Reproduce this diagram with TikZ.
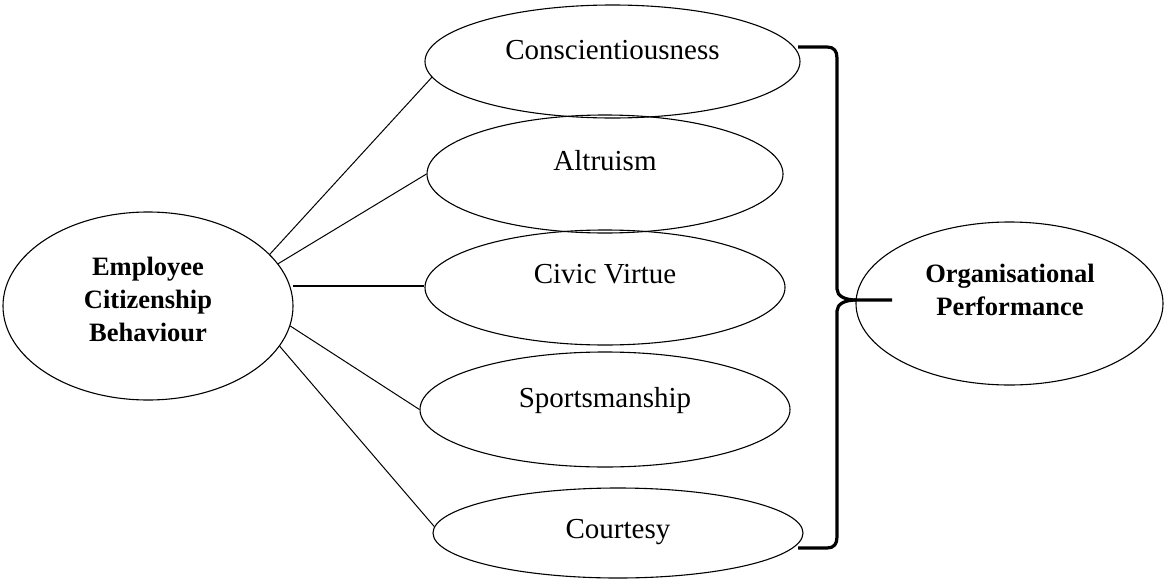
\documentclass[tikz,border=0pt]{standalone}
\usepackage{fontspec}
\setmainfont{Liberation Serif}
\usetikzlibrary{shapes.geometric}
\begin{document}
\begin{tikzpicture}[x=1pt,y=-1pt,
  oval/.style={ellipse, draw, line width=1.1pt, inner sep=0pt},
  lbl/.style={font=\fontsize{29}{34}\selectfont, anchor=base, inner sep=0pt},
  blbl/.style={font=\fontsize{26.5}{33}\selectfont\bfseries, align=center, inner sep=0pt},
  link/.style={line width=1pt},
  bracket/.style={line width=3.2pt, line cap=butt, line join=round}]
\useasboundingbox (0,0) rectangle (1165,581);
% ellipses
\node[oval, minimum width=290pt, minimum height=188pt] (ecb) at (148,306) {};
\node[oval, minimum width=375pt, minimum height=113pt] (consc) at (612.5,61.5) {};
\node[oval, minimum width=356pt, minimum height=118pt] (altru) at (605,174) {};
\node[oval, minimum width=360pt, minimum height=115pt] (civic) at (605,287.5) {};
\node[oval, minimum width=370pt, minimum height=115pt] (sports) at (605,409.5) {};
\node[oval, minimum width=370pt, minimum height=90pt] (court) at (618,533) {};
\node[oval, minimum width=307pt, minimum height=163pt] (org) at (1009.5,303.5) {};
% labels
\node[lbl] at (612.5,59) {Conscientiousness};
\node[lbl] at (605,170) {Altruism};
\node[lbl] at (605,283) {Civic Virtue};
\node[lbl] at (605,407) {Sportsmanship};
\node[lbl] at (618,538) {Courtesy};
\node[blbl] at (148,299.5) {Employee\\Citizenship\\Behaviour};
\node[blbl] at (1010,289.5) {Organisational\\Performance};
% connectors
\draw[link] (ecb.23.5) -- (consc.185.85);
\draw[link] (ecb.18.2) -- (altru.west);
\draw[link, line width=1.8pt] ([xshift=3pt]ecb.8.6) -- (ecb.8.6 -| civic.west);
\draw[link] (ecb.-8.8) -- (sports.west);
\draw[link] (ecb.-17.1) -- (court.178);
% brace
\coordinate (tip) at (856,300);
\draw[bracket] (798,47) -- (827,47) .. controls (834,47) and (837,51) .. (837,58)
  -- (837,289) .. controls (837,296) and (845,300) .. (tip) -- ([xshift=36pt]tip);
\draw[bracket] (tip) .. controls (845,300) and (837,304) .. (837,311)
  -- (837,537) .. controls (837,544) and (834,548) .. (827,548) -- (798,548);
\end{tikzpicture}
\end{document}
